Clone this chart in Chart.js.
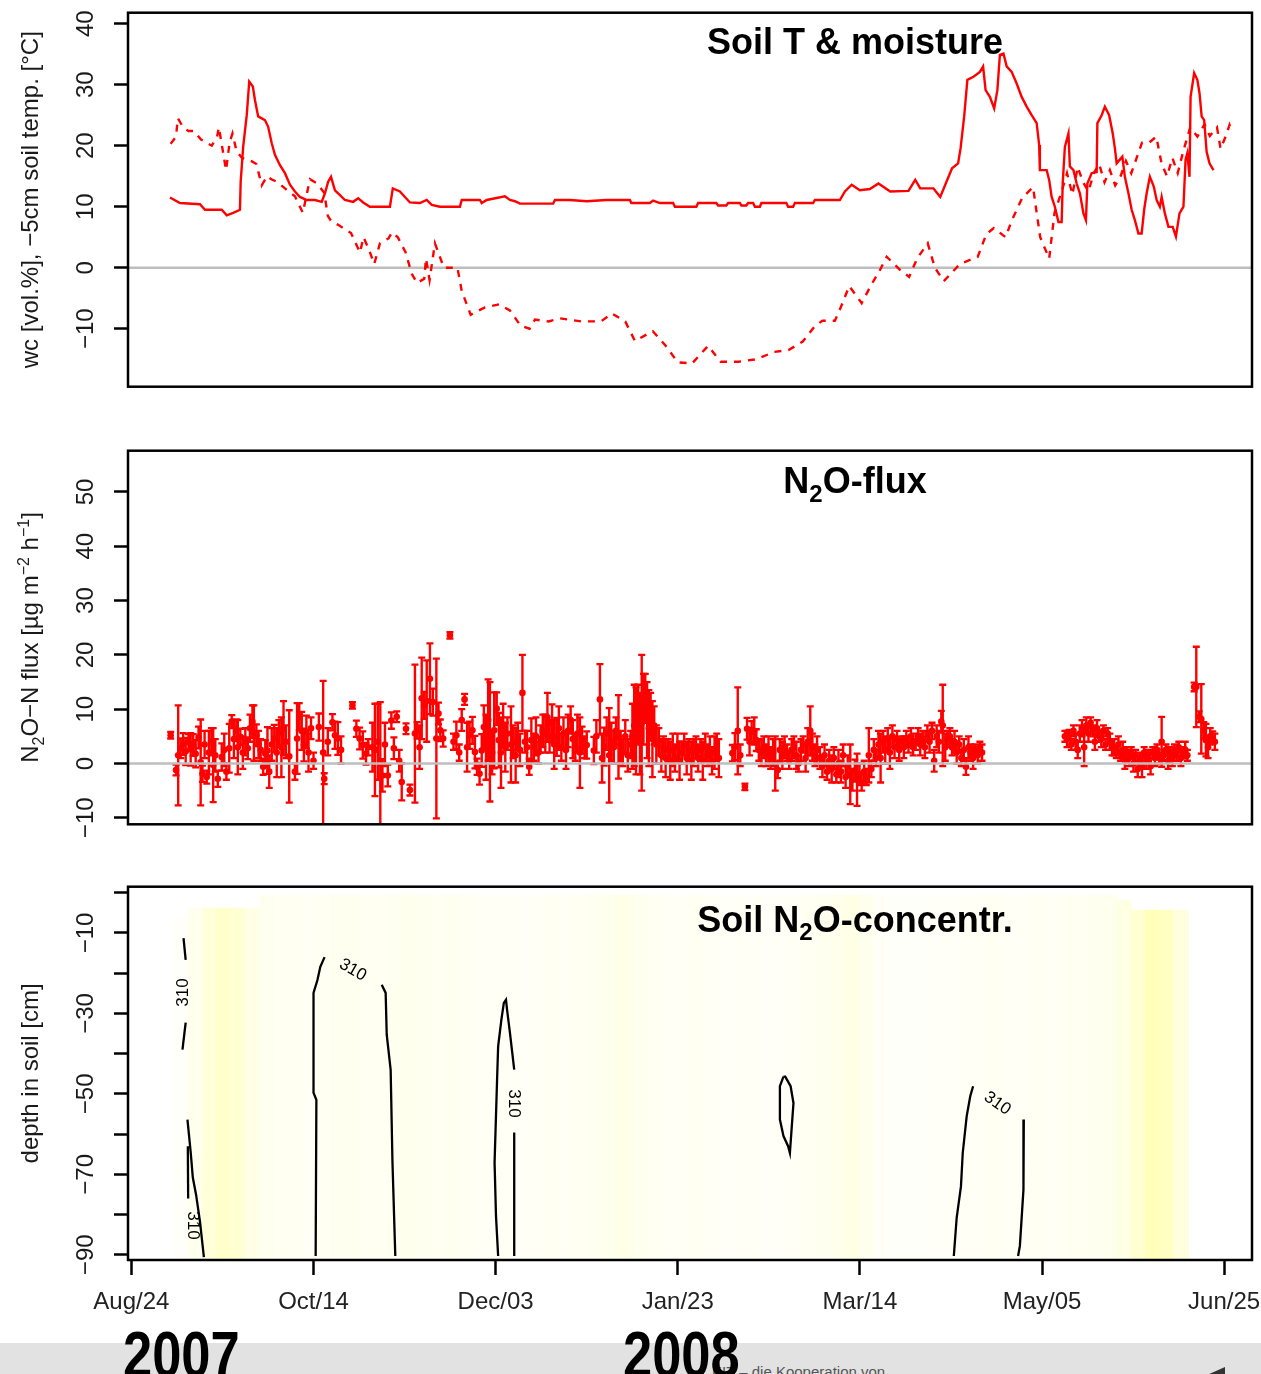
<!DOCTYPE html>
<html>
<head>
<meta charset="utf-8">
<script src="https://cdn.jsdelivr.net/npm/chart.js@4.4.0/dist/chart.umd.min.js"></script>
<style>
  html, body { margin: 0; padding: 0; background: #fff; }
  #wrap { position: relative; width: 1261px; height: 1374px; overflow: hidden; background: #fff; }
  canvas { position: absolute; left: 0; }
  #footer { position: absolute; left: 0; top: 1343px; width: 1261px; height: 31px; background: #e2e2e2; }
  .yr { position: absolute; top: 1323px; font: bold 64px "Liberation Sans", Arial, sans-serif; line-height: 64px;
        transform: scaleX(0.82); transform-origin: left top; color: #000; }
  #kit { position: absolute; left: 712px; top: 1363px; font: 15px "Liberation Sans", Arial, sans-serif; color: #555; }
  #logo { position: absolute; left: 1207px; top: 1367px; width: 0; height: 0;
          border-left: 18px solid transparent; border-bottom: 8px solid #333; }
</style>
</head>
<body>
<div id="wrap">
  <div id="footer"></div>
  <div id="kit">KIT – die Kooperation von</div>
  <div id="logo"></div>
  <div class="yr" style="left:123px">2007</div>
  <div class="yr" style="left:623px">2008</div>
  <canvas id="c1" width="1261" height="400" style="top:0"></canvas>
  <canvas id="c2" width="1261" height="410" style="top:430px"></canvas>
  <canvas id="c3" width="1261" height="460" style="top:870px"></canvas>
</div>
<script>
const FONT = '"Liberation Sans", Arial, Helvetica, sans-serif'
const RED = '#ff0000'
const GRAY = '#bebebe'

// x axis: days since 24 Aug 2007
const X_MIN = -0.95
const X_MAX = 313.8
const xTickDays = [0, 51, 102, 153, 204, 255, 306]
const xTickLabels = ['Aug/24', 'Oct/14', 'Dec/03', 'Jan/23', 'Mar/14', 'May/05', 'Jun/25']

const yTicks1 = [-10, 0, 10, 20, 30, 40]
const yTicks2 = [-10, 0, 10, 20, 30, 40, 50]
const yTicks3 = [0, -10, -20, -30, -40, -50, -60, -70, -80, -90]
const yLabels3 = [-10, -30, -50, -70, -90]

// soil moisture (solid)
const wcDay = [10.8,13.6,19.2,20.6,25.3,26.7,28.5,30.4,30.6,31.3,32.3,33.0,34.0,34.6,35.5,37.4,38.3,39.3,40.2,41.6,
  43.0,44.4,45.8,47.2,49.1,51.4,53.3,54.2,55.1,55.9,57.0,58.4,59.8,62.1,63.5,64.9,66.8,72.4,73.2,75.2,76.6,78.0,
  80.8,82.7,84.1,86.4,92.0,92.5,97.6,98.1,99.5,104.6,106.0,107.4,108.8,118.1,118.6,122.8,127.5,133.0,139.6,140.0,
  145.2,146.1,148.0,151.7,152.2,158.2,158.7,163.8,164.3,166.6,167.1,170.4,170.8,172.2,172.7,174.1,174.6,176.0,176.4,
  183.4,183.9,185.3,185.8,190.9,191.4,198.4,
  199.8,201.7,204.0,206.8,209.2,212.5,217.6,219.5,220.9,224.6,226.5,227.9,229.8,231.5,232.2,233.2,234.1,235.8,237.6,238.5,
  239.2,240.4,241.6,242.5,243.2,244.2,245.1,246.5,247.9,249.3,250.7,252.1,253.5,254.2,254.4,256.3,257.0,257.7,258.6,259.6,
  260.5,260.8,261.4,262.4,262.8,263.8,264.7,265.6,266.6,267.3,267.7,268.9,270.3,270.5,271.7,272.6,273.8,274.8,275.4,275.9,
  277.5,278.2,279.2,280.1,281.0,282.0,282.9,283.6,284.3,285.2,286.3,287.1,288.0,288.5,289.4,290.4,291.6,292.5,293.5,294.6,
  295.2,295.7,296.3,296.6,297.6,298.5,299.1,299.7,300.4,301.1,301.9,303.0]
const wcVal = [11.5,10.6,10.4,9.5,9.5,8.6,9.0,9.5,14.1,19.8,25.0,30.5,29.7,27.5,24.8,24.2,23.1,20.4,18.5,16.8,
  15.5,13.6,12.5,11.6,11.1,11.1,10.8,12.2,14.1,14.9,12.7,11.9,11.1,10.8,11.4,10.7,10.0,10.0,13.0,12.5,11.6,10.7,
  10.6,11.1,10.3,10.0,10.0,11.1,11.1,10.6,11.1,11.7,11.1,10.9,10.5,10.5,11.1,11.1,10.9,11.1,11.1,10.6,
  10.6,11.0,10.6,10.6,10.0,10.0,10.6,10.6,10.2,10.2,10.6,10.6,10.2,10.2,10.6,10.6,10.0,10.0,10.6,
  10.6,10.0,10.0,10.6,10.6,11.1,11.1,
  12.5,13.6,12.7,12.9,13.8,12.5,12.6,14.4,13.0,13.0,11.6,13.6,16.3,17.1,19.6,24.8,30.8,31.3,32.1,33.0,
  29.1,28.0,26.1,29.1,34.9,35.1,33.0,32.1,30.2,28.0,26.4,25.0,23.7,20.1,16.0,16.0,14.4,11.6,10.0,7.5,
  7.5,13.9,19.8,22.0,16.6,16.0,13.8,12.2,8.9,7.8,13.8,15.5,15.7,23.7,25.0,26.4,25.0,22.0,19.6,17.1,
  18.2,14.9,12.2,9.5,7.8,5.6,5.6,9.5,12.2,14.9,13.3,11.1,10.0,11.6,8.9,6.7,6.7,5.1,8.9,10.0,
  17.7,18.8,14.9,28.0,31.9,30.8,28.6,24.8,24.2,19.0,17.1,16.0]

// soil temperature -5 cm (dashed)
const tDay = [11.0,12.5,13.0,14.5,16.0,17.5,19.5,21.0,22.5,24.0,24.5,25.5,26.5,27.5,28.3,29.5,31.0,33.5,35.0,36.5,
  38.0,39.2,41.0,43.0,45.8,48.0,50.0,52.0,54.0,55.0,56.0,58.0,61.5,64.0,65.0,66.5,68.0,69.6,72.0,73.0,
  74.6,76.8,78.5,80.0,82.0,82.5,83.5,85.0,87.5,91.3,92.5,95.0,99.0,103.0,106.0,109.0,111.5,113.0,116.8,120.0,
  126.0,131.5,134.5,138.3,141.0,146.0,149.5,153.0,157.0,161.5,165.0,170.0,175.0,180.0,184.0,188.0,191.5,193.5,197.0,199.0,
  201.0,204.5,207.0,209.5,211.5,215.5,217.8,220.0,223.0,225.0,227.5,232.0,237.0,239.4,241.5,244.8,246.5,249.5,252.5,253.5,
  254.5,257.0,258.5,260.5,262.0,263.5,265.0,266.5,268.0,269.5,271.0,272.5,274.0,275.5,277.0,278.5,280.0,281.5,283.0,285.0,
  287.0,288.5,290.0,291.5,293.0,294.5,296.5,298.5,300.5,302.0,304.0,305.0,306.5,307.5,308.2]
const tVal = [20.3,21.5,24.5,23.0,22.4,22.4,21.0,20.5,20.0,21.5,23.0,19.5,16.0,20.5,22.0,19.0,18.0,17.5,17.0,13.5,
  15.0,14.5,14.0,13.0,11.7,9.0,14.5,13.8,12.3,8.5,7.6,7.0,5.7,2.5,5.0,3.0,0.6,4.0,4.8,5.8,
  5.0,2.5,-1.0,-2.5,-1.8,1.5,-2.0,4.0,0.0,0.0,-3.8,-7.7,-6.5,-6.0,-7.0,-9.5,-10.0,-8.5,-8.8,-8.3,
  -8.8,-8.8,-7.5,-8.8,-12.0,-10.4,-12.7,-15.5,-15.7,-12.8,-15.4,-15.4,-15.0,-13.8,-13.5,-12.1,-9.5,-8.7,-8.7,-6.0,
  -3.0,-5.8,-3.0,-0.5,1.8,-0.5,-1.5,1.5,4.0,0.0,-2.2,0.6,1.8,5.5,6.5,5.0,7.7,11.5,13.2,9.0,
  5.0,1.5,9.0,12.5,15.5,12.0,16.5,14.0,12.5,15.5,17.0,14.0,16.0,13.5,15.0,17.5,15.5,18.0,20.5,20.5,
  21.5,17.0,15.0,18.0,15.5,19.0,23.0,21.5,23.5,21.6,23.0,19.5,21.6,23.4,22.2]

// N2O-N flux, mean and half error bar
const fluxDay = [
  11.0,12.5,13.1,13.8,14.5,15.2,16.0,16.6,17.3,18.0,18.8,19.4,19.9,20.5,21.1,21.7,22.4,22.9,23.5,24.2,
  25.3,26.0,26.6,27.4,28.1,28.7,29.4,29.8,30.5,31.2,31.9,32.6,33.2,33.9,34.3,35.0,35.6,36.2,
  36.9,37.5,38.1,38.6,39.3,40.0,40.7,41.3,42.0,42.6,43.3,44.2,
  45.8,46.4,47.0,47.7,48.3,49.0,49.6,50.3,51.0,
  52.5,53.7,54.0,55.0,56.3,57.0,57.8,58.7,
  61.9,63.0,63.9,64.8,65.7,66.3,
  67.5,68.2,69.0,69.7,70.3,71.0,71.8,
  72.8,73.5,74.3,75.0,75.7,76.9,78.0,
  79.4,80.0,80.7,81.3,82.0,82.7,83.6,84.4,85.4,86.0,86.5,87.3,
  89.2,
  90.2,91.0,91.8,92.5,93.3,94.0,94.7,95.5,96.2,96.8,
  97.5,98.1,98.7,99.3,99.9,100.4,101.0,101.6,102.3,102.9,103.5,104.1,104.7,105.3,
  106.3,106.9,107.6,108.2,108.8,109.5,110.2,110.8,111.4,112.0,112.7,113.3,114.0,114.6,
  115.2,115.9,116.5,117.1,117.8,118.4,119.1,119.7,120.4,121.0,121.7,122.3,123.0,123.6,124.3,124.9,125.6,126.2,126.9,127.5,
  129.5,130.2,131.2,131.8,132.4,133.1,133.8,134.4,135.1,135.7,136.4,137.0,137.6,138.3,139.0,
  139.8,140.3,140.8,141.3,141.9,142.4,142.9,143.4,143.9,144.4,144.9,145.4,145.9,146.4,147.0,
  147.7,148.4,149.0,149.6,150.3,150.9,151.6,152.2,152.9,153.5,154.2,154.8,155.5,156.1,156.8,157.4,158.1,158.7,159.4,160.0,
  160.7,161.3,162.0,162.6,163.3,163.9,164.5,
  168.3,169.0,169.8,170.5,171.8,172.4,173.1,173.7,174.4,175.0,175.7,
  176.4,177.1,177.7,178.4,179.0,179.7,180.3,181.0,181.6,182.3,182.9,183.6,184.2,184.9,185.5,186.2,186.8,187.5,188.1,188.8,
  189.4,190.1,190.7,191.4,192.0,
  192.8,193.5,194.1,194.8,195.4,196.1,196.7,197.4,198.0,198.7,199.3,200.0,200.6,201.3,201.9,202.6,203.2,203.9,204.5,205.2,205.8,
  206.5,207.2,207.9,208.5,209.2,209.8,210.5,211.1,211.8,212.4,213.1,213.7,214.4,215.0,215.7,216.3,217.0,217.6,218.3,218.9,219.6,
  220.3,220.9,221.6,222.2,222.9,223.5,224.2,224.8,225.5,226.1,226.8,227.2,227.9,228.5,229.2,229.8,230.5,231.1,231.8,232.4,
  233.1,233.7,234.4,235.0,235.7,236.3,237.0,237.6,238.2,
  261.4,262.0,262.6,263.2,263.8,264.4,265.0,265.6,266.2,266.8,267.4,268.0,268.6,269.2,269.8,270.4,271.0,271.6,272.2,272.8,
  273.4,274.0,274.6,
  275.2,275.8,276.4,277.0,277.6,278.2,278.8,279.4,280.0,280.6,281.2,281.8,282.4,283.0,283.6,284.2,284.8,285.4,286.0,286.6,
  287.2,287.8,288.5,289.1,289.7,290.3,290.9,291.5,292.1,292.7,293.3,293.9,294.5,295.1,295.7,
  297.6,298.2,299.0,299.6,300.3,300.9,301.5,302.1,302.8,303.4]
const fluxVal = [
  5.2,-1.2,1.5,2.8,3.6,2.2,3.9,2.6,3.4,1.8,4.8,0.2,-1.9,3.5,-2.5,2.0,4.0,-0.3,1.5,-2.8,
  1.2,2.5,-1.5,2.8,7.7,4.5,6.1,3.0,4.9,2.0,4.0,2.8,6.5,7.7,5.6,5.2,3.5,2.5,
  -0.6,1.8,2.4,-1.5,3.5,4.6,2.0,5.5,3.0,6.5,4.0,1.3,
  -1.5,4.6,8.6,6.0,3.4,5.8,2.0,6.5,0.5,
  6.7,2.0,-2.8,4.0,7.6,5.2,4.6,2.5,
  10.7,6.4,4.6,3.4,1.8,3.0,
  3.0,2.5,4.0,0.0,-2.2,3.5,-2.2,
  7.9,2.8,8.6,0.5,-3.4,6.4,-4.9,
  5.5,6.1,3.0,12.0,10.7,11.5,15.6,11.3,4.6,9.2,6.1,4.6,
  23.6,
  4.0,5.2,2.0,8.0,11.8,3.0,5.2,6.1,2.1,-0.6,
  -1.9,2.4,6.7,3.0,8.0,4.0,2.0,6.1,10.1,4.3,2.0,7.0,3.0,5.5,
  3.5,4.0,1.5,5.0,2.5,13.0,4.0,3.0,-0.6,4.3,3.0,5.0,2.0,4.5,
  6.0,5.5,8.5,5.0,7.4,3.5,4.9,6.5,3.0,5.5,2.5,6.0,8.0,4.5,3.0,5.5,2.0,4.3,3.0,3.4,
  2.4,5.0,11.8,1.0,3.1,5.5,1.5,4.0,3.0,6.0,4.9,3.0,2.0,5.0,1.5,
  3.5,5.0,7.0,6.0,9.0,5.5,7.5,10.0,12.0,8.0,6.5,9.0,4.5,7.0,3.5,
  4.0,1.5,3.0,1.0,2.5,0.5,2.5,1.0,3.0,0.5,2.0,3.5,1.0,2.5,0.5,2.0,3.0,1.0,2.5,0.5,
  3.0,1.5,2.5,0.5,2.0,3.0,1.0,
  1.9,3.1,6.0,1.5,-4.3,6.4,4.0,5.8,6.0,4.3,2.5,
  2.0,3.0,1.5,2.5,1.0,2.0,0.0,-1.2,2.5,1.5,3.0,2.0,0.5,2.5,3.0,1.5,0.0,2.5,3.5,1.0,
  4.0,6.0,3.0,1.5,2.5,
  1.0,-0.5,1.5,-1.5,0.5,-1.0,1.0,-2.0,0.0,-1.5,1.5,-2.5,-0.5,-2.0,-3.0,-1.3,-3.0,-2.0,-3.5,-1.5,-2.5,
  1.5,-1.0,2.5,1.0,3.5,1.0,4.0,2.5,4.5,2.0,5.0,3.0,4.5,2.5,4.0,3.0,4.5,3.5,5.0,3.0,4.0,
  5.0,3.5,4.5,3.0,5.5,4.0,6.0,0.5,5.0,4.0,7.7,7.0,3.0,4.5,5.0,3.0,4.0,2.0,3.5,1.0,
  2.5,-0.6,3.0,2.0,1.0,2.5,1.5,3.0,2.0,
  5.0,4.5,5.2,3.5,6.0,4.0,2.5,5.5,6.5,3.0,7.0,5.5,7.5,6.0,4.0,6.5,5.0,4.5,6.0,3.5,
  5.5,4.0,3.0,
  3.0,2.0,3.5,1.5,2.5,0.5,2.0,1.0,2.0,0.0,1.5,-1.0,1.0,-0.5,2.0,0.5,1.5,-0.5,2.0,1.0,
  2.5,1.0,4.0,1.5,2.5,0.5,2.0,1.0,2.5,1.5,3.0,1.0,2.0,2.5,1.5,
  14.1,14.1,8.6,8.2,6.1,4.3,3.0,5.0,4.9,4.0]
const fluxErr = [
  0.6,1.0,9.2,1.8,2.0,2.5,1.5,3.0,2.0,2.5,2.0,7.9,1.5,2.5,1.2,4.0,2.5,6.8,3.0,1.5,
  2.5,3.0,1.5,4.5,1.2,3.5,2.0,5.0,1.5,3.0,2.5,2.0,2.5,3.0,5.1,2.0,2.5,2.0,
  1.5,2.5,4.3,3.0,3.0,2.5,4.5,2.5,5.5,5.0,3.0,8.5,
  1.5,6.5,2.5,3.5,3.0,3.0,3.5,2.0,1.5,
  2.5,13.2,1.0,2.5,1.5,2.5,3.0,2.5,
  0.6,1.5,2.0,2.5,2.0,1.5,
  4.5,8.5,7.0,11.3,3.0,4.0,2.0,
  1.5,2.0,1.0,2.0,3.4,1.0,1.0,
  12.7,1.5,4.0,7.5,2.5,7.5,6.5,2.5,14.7,2.0,2.0,1.5,
  0.6,
  1.5,2.5,1.5,2.0,1.0,4.5,2.5,2.5,3.0,1.5,
  2.0,3.0,4.0,6.0,7.5,11.0,4.0,7.0,3.0,5.0,6.5,4.0,4.5,3.0,
  7.0,3.0,5.0,2.5,3.0,7.0,2.0,3.0,1.5,4.0,2.5,3.5,2.0,2.5,
  3.0,3.5,4.5,3.0,3.5,4.5,3.5,4.0,2.5,3.0,3.5,3.0,2.5,3.5,2.5,3.5,6.5,2.5,2.0,2.5,
  2.5,3.0,6.5,4.5,3.5,3.0,8.7,3.5,3.0,2.5,7.7,3.0,2.5,3.0,3.0,
  2.5,6.0,7.5,8.0,5.5,7.5,12.5,6.5,4.5,7.0,7.0,4.0,7.0,3.5,3.5,
  2.5,3.0,2.0,3.5,2.0,3.5,3.0,2.5,2.5,3.5,2.0,2.0,3.0,2.0,3.5,2.5,2.0,2.5,2.0,3.5,
  2.5,2.0,2.5,2.5,3.0,2.5,3.5,
  1.5,2.5,8.0,2.0,0.6,2.0,2.5,2.0,2.5,2.0,2.0,
  2.5,2.0,2.0,2.5,2.0,2.5,5.0,1.5,2.0,2.5,2.0,1.5,1.5,2.0,2.0,2.5,1.5,2.0,1.5,2.5,
  2.5,4.5,2.5,2.0,2.5,
  2.0,2.0,2.0,1.5,2.0,2.5,2.0,1.5,2.5,2.0,2.0,2.0,2.0,5.5,2.0,2.0,4.8,2.0,1.5,2.0,1.5,
  5.0,1.5,2.0,1.5,2.5,4.5,2.0,2.5,2.0,3.0,2.0,2.0,1.5,2.0,1.0,2.0,1.5,1.5,1.5,1.5,1.5,
  1.5,2.0,1.5,2.0,1.5,2.0,1.5,2.0,2.0,2.0,2.0,7.5,2.5,1.5,1.5,1.5,2.0,2.0,1.5,1.5,
  2.0,1.5,2.0,1.5,2.0,1.0,1.5,1.0,1.5,
  1.0,1.5,1.0,1.0,1.0,1.5,1.5,1.5,1.5,3.5,1.5,1.5,1.0,1.0,1.5,1.5,1.0,1.5,1.0,1.0,
  1.0,1.5,1.5,
  1.5,1.0,1.5,1.0,1.5,1.5,1.0,1.5,1.0,1.5,1.0,1.5,1.0,2.0,1.0,1.5,1.0,1.5,1.0,1.5,
  1.0,1.0,4.6,1.0,1.0,1.5,1.0,1.5,1.0,1.0,1.0,1.5,1.0,1.5,1.0,
  0.8,7.4,1.0,6.4,1.5,3.0,2.0,1.5,1.0,1.5]

// soil N2O concentration shading: columns (day), intensity 0..1, top depth
const heatDay = [14,18,22,26,30,34,38,42,46,50,54,58,62,66,70,74,78,82,86,90,94,98,102,106,110,114,118,122,126,130,
  134,138,142,146,150,154,158,162,166,170,174,178,182,186,190,194,198,202,206,210,214,218,222,226,230,234,238,242,246,250,
  254,258,262,266,270,274,278,282,286,290,294]
const heatLevel = [0.02,0.07,0.15,0.2,0.17,0.1,0.06,0.05,0.05,0.04,0.05,0.06,0.06,0.05,0.05,0.06,0.07,0.06,0.05,0.06,
  0.05,0.04,0.04,0.04,0.03,0.04,0.05,0.04,0.05,0.06,0.07,0.09,0.07,0.05,0.04,0.04,0.05,0.04,0.03,0.04,
  0.04,0.03,0.03,0.04,0.05,0.06,0.08,0.1,0.07,0.03,0.02,0.02,0.02,0.03,0.03,0.04,0.04,0.05,0.04,0.04,
  0.05,0.04,0.05,0.05,0.06,0.07,0.1,0.18,0.27,0.24,0.12]
const heatTop = [-6,-3.8,-3.8,-3.8,-3.8,-3.8,-0.6,-0.6,-0.6,-0.6,-0.6,-0.6,-0.6,-0.6,-0.6,-0.6,-0.6,-0.6,-0.6,-0.6,
  -0.6,-0.6,-0.6,-0.6,-0.6,-0.6,-0.6,-0.6,-0.6,-0.6,-0.6,-0.6,-0.6,-0.6,-0.6,-0.6,-0.6,-0.6,-0.6,-0.6,
  -0.6,-0.6,-0.6,-0.6,-0.6,-0.6,-0.6,-0.6,-0.6,-0.6,-0.6,-0.6,-0.6,-0.6,-0.6,-0.6,-0.6,-0.6,-0.6,-0.6,
  -0.6,-0.6,-0.6,-0.6,-0.6,-0.6,-1.8,-4.3,-4.3,-4.3,-4.3]
const HEAT_BOTTOM = -91.3

// 310 contour pieces [day, depth]
const ctrAugTop = [[14.6,-11.3],[15.2,-16.7]]
const ctrAugMid = [[15.2,-32.3],[14.3,-39.0]]
const ctrAugLow = [[15.7,-56.4],[16.6,-64.5],[17.2,-70.8],[18.1,-75.0],[19.2,-81.7],[20.3,-90.6]]
const ctrAugLow2 = [[15.8,-63.0],[15.9,-76.0]]
const ctrOctL = [[51.6,-90.3],[51.8,-51.5],[51.0,-49.7],[51.0,-24.9],[52.1,-21.7],[52.9,-18.4],[54.1,-16.0]]
const ctrOctR = [[70.1,-22.9],[71.2,-24.9],[71.5,-35.3],[72.6,-44.0],[73.1,-66.7],[73.9,-90.3]]
const ctrDecL = [[102.7,-90.3],[102.1,-80.4],[101.7,-67.1],[102.4,-46.5],[102.7,-38.2],[103.6,-31.6],[104.3,-27.4],
  [104.9,-26.6],[105.2,-29.1],[106.0,-34.8],[107.2,-44.0]]
const ctrDecR = [[107.2,-59.6],[107.2,-90.3]]
const ctrFeb = [[182.6,-45.7],[181.6,-48.1],[181.6,-56.4],[182.6,-60.5],[183.9,-63.0],[184.4,-64.7],[184.8,-59.7],
  [185.4,-52.3],[184.6,-48.1],[183.1,-45.7],[182.6,-45.7]]
const ctrAprL = [[230.3,-90.3],[231.1,-80.8],[232.3,-73.0],[232.8,-64.7],[233.9,-55.6],[234.9,-50.6],[235.7,-48.1]]
const ctrAprR = [[249.9,-56.4],[249.8,-73.8],[248.8,-87.8],[248.3,-90.3]]
const contours = [ctrAugTop, ctrAugMid, ctrAugLow, ctrAugLow2, ctrOctL, ctrOctR, ctrDecL, ctrDecR, ctrFeb, ctrAprL, ctrAprR]

const lblAt = [[14.6,-24.8],[17.3,-82.7],[62.0,-19.2],[107.1,-52.4],[242.5,-52.4]]
const lblAngle = [-90, 90, 30, 90, 35]

function drawParts(ctx, parts, size, weight) {
  const small = Math.round(size * 0.68)
  ctx.textAlign = 'left'
  const widths = parts.map(([t, k]) => {
    ctx.font = `${weight} ${k ? small : size}px ${FONT}`
    return ctx.measureText(t).width
  })
  let x = -widths.reduce((a, b) => a + b, 0) / 2
  parts.forEach(([t, k], i) => {
    ctx.font = `${weight} ${k ? small : size}px ${FONT}`
    const dy = k === 'sub' ? size * 0.23 : k === 'sup' ? -size * 0.4 : 0
    ctx.fillText(t, x, dy)
    x += widths[i]
  })
}

const frame = {
  id: 'frame',
  afterDatasetsDraw(chart) {
    const { ctx, chartArea: a } = chart
    ctx.save()
    ctx.lineWidth = 2.5
    ctx.strokeStyle = '#000'
    ctx.strokeRect(a.left, a.top, a.right - a.left, a.bottom - a.top)
    ctx.restore()
  },
}

// R style labels: rotated y tick labels, rotated axis title, panel heading
const rlab = {
  id: 'rlab',
  afterDraw(chart, args, o) {
    const { ctx, chartArea: a } = chart
    const ys = chart.scales.y
    ctx.save()
    ctx.fillStyle = '#1a1a1a'
    ctx.font = `24px ${FONT}`
    ctx.textAlign = 'center'
    ctx.textBaseline = 'middle'
    o.labels.forEach(v => {
      ctx.save()
      ctx.translate(86, ys.getPixelForValue(v))
      ctx.rotate(-Math.PI / 2)
      ctx.fillText(v < 0 ? '\u2212' + Math.abs(v) : String(v), 0, 0)
      ctx.restore()
    })
    ctx.textBaseline = 'alphabetic'
    ctx.save()
    ctx.translate(30, (a.top + a.bottom) / 2)
    ctx.rotate(-Math.PI / 2)
    ctx.translate(0, 24 * 0.35)
    drawParts(ctx, o.title, 24, 'normal')
    ctx.restore()
    ctx.fillStyle = '#000'
    ctx.save()
    ctx.translate(855, o.headY)
    drawParts(ctx, o.head, 36, 'bold')
    ctx.restore()
    ctx.restore()
  },
}

const clab = {
  id: 'clab',
  afterDatasetsDraw(chart) {
    const { ctx, scales: { x, y } } = chart
    ctx.save()
    ctx.fillStyle = '#000'
    ctx.font = `17px ${FONT}`
    ctx.textAlign = 'center'
    ctx.textBaseline = 'middle'
    lblAt.forEach(([d, z], i) => {
      ctx.save()
      ctx.translate(x.getPixelForValue(d), y.getPixelForValue(z))
      ctx.rotate(lblAngle[i] * Math.PI / 180)
      ctx.fillText('310', 0, 0)
      ctx.restore()
    })
    ctx.restore()
  },
}

function yScale(min, max, ticks) {
  return {
    min, max,
    afterBuildTicks: s => { s.ticks = ticks.map(v => ({ value: v })) },
    afterFit: s => { s.width = 128 },
    ticks: { display: false },
    grid: { drawOnChartArea: false, drawTicks: true, tickLength: 14, tickWidth: 2.5, tickColor: '#000' },
    border: { display: false },
  }
}

const xHidden = { type: 'linear', min: X_MIN, max: X_MAX, display: false }

const base = {
  responsive: false,
  animation: false,
  events: [],
}

const zeroLine = [{ x: X_MIN, y: 0 }, { x: X_MAX, y: 0 }]

// panel 1: soil T & moisture
new Chart(document.getElementById('c1'), {
  type: 'scatter',
  data: {
    datasets: [
      { type: 'line', data: wcDay.map((d, i) => ({ x: d, y: wcVal[i] })), borderColor: RED, borderWidth: 2.4,
        pointRadius: 0, tension: 0, order: 1 },
      { type: 'line', data: tDay.map((d, i) => ({ x: d, y: tVal[i] })), borderColor: RED, borderWidth: 2.4,
        borderDash: [7, 7], pointRadius: 0, tension: 0, order: 2 },
      { type: 'line', data: zeroLine, borderColor: GRAY, borderWidth: 2.5, pointRadius: 0, order: 5 },
    ],
  },
  options: {
    ...base,
    layout: { padding: { top: 12.7, bottom: 13.3, left: 0, right: 9 } },
    scales: { x: xHidden, y: yScale(-19.5, 41.8, yTicks1) },
    plugins: {
      legend: { display: false }, tooltip: { enabled: false },
      rlab: { labels: yTicks1, title: [['wc [vol.%], \u22125cm soil temp. [\u00b0C]', '']],
              head: [['Soil T & moisture', '']], headY: 53.5 },
    },
  },
  plugins: [frame, rlab],
})

// panel 2: N2O flux with error bars
const errSegs = []
const errCaps = []
fluxDay.forEach((d, i) => {
  const lo = fluxVal[i] - fluxErr[i], hi = fluxVal[i] + fluxErr[i]
  errSegs.push({ x: d, y: lo }, { x: d, y: hi }, { x: d, y: null })
  errCaps.push({ x: d, y: lo }, { x: d, y: hi })
})

new Chart(document.getElementById('c2'), {
  type: 'scatter',
  data: {
    datasets: [
      { type: 'line', data: zeroLine, borderColor: GRAY, borderWidth: 2.5, pointRadius: 0, order: 0 },
      { data: fluxDay.map((d, i) => ({ x: d, y: fluxVal[i] })), pointStyle: 'circle', pointRadius: 3.3,
        backgroundColor: RED, borderWidth: 0, order: 1 },
      { data: errCaps, pointStyle: 'line', pointRadius: 3.5, borderColor: RED, borderWidth: 2.3, order: 2 },
      { type: 'line', data: errSegs, borderColor: RED, borderWidth: 2.4, pointRadius: 0, spanGaps: false, order: 3 },
    ],
  },
  options: {
    ...base,
    layout: { padding: { top: 20.7, bottom: 15.7, left: 0, right: 9 } },
    scales: { x: xHidden, y: yScale(-11.2, 57.6, yTicks2) },
    plugins: {
      legend: { display: false }, tooltip: { enabled: false },
      rlab: { labels: yTicks2,
              title: [['N', ''], ['2', 'sub'], ['O\u2212N flux [\u00b5g m', ''], ['\u22122', 'sup'], [' h', ''], ['\u22121', 'sup'], [']', '']],
              head: [['N', ''], ['2', 'sub'], ['O-flux', '']], headY: 63.3 },
    },
  },
  plugins: [frame, rlab],
})

// panel 3: soil N2O concentration
const heatColors = heatLevel.map(a => `rgb(255,255,${Math.round(255 * (1 - a))})`)

new Chart(document.getElementById('c3'), {
  type: 'scatter',
  data: {
    datasets: [
      ...contours.map(c => ({ type: 'line', data: c.map(([d, z]) => ({ x: d, y: z })), borderColor: '#000',
        borderWidth: 2.3, pointRadius: 0, tension: 0, order: 1 })),
      { type: 'bar', data: heatDay.map((d, i) => ({ x: d, y: [HEAT_BOTTOM, heatTop[i]] })),
        backgroundColor: heatColors, borderWidth: 0, barThickness: 15, order: 10 },
    ],
  },
  options: {
    ...base,
    layout: { padding: { top: 16.7, bottom: 0, left: 0, right: 9 } },
    scales: {
      x: {
        type: 'linear', min: X_MIN, max: X_MAX, offset: false,
        afterBuildTicks: s => { s.ticks = xTickDays.map(v => ({ value: v })) },
        afterFit: s => { s.height = 70; s.paddingLeft = 0; s.paddingRight = 0 },
        ticks: { callback: (v, i) => xTickLabels[i], autoSkip: false, maxRotation: 0, minRotation: 0,
                 font: { size: 24, family: FONT }, color: '#222', padding: 13 },
        grid: { drawOnChartArea: false, tickLength: 15, tickWidth: 2.5, tickColor: '#000', offset: false },
        border: { display: false },
      },
      y: yScale(-91.3, 1.5, yTicks3),
    },
    plugins: {
      legend: { display: false }, tooltip: { enabled: false },
      rlab: { labels: yLabels3, title: [['depth in soil [cm]', '']],
              head: [['Soil N', ''], ['2', 'sub'], ['O-concentr.', '']], headY: 61.7 },
    },
  },
  plugins: [frame, rlab, clab],
})
</script>
</body>
</html>
